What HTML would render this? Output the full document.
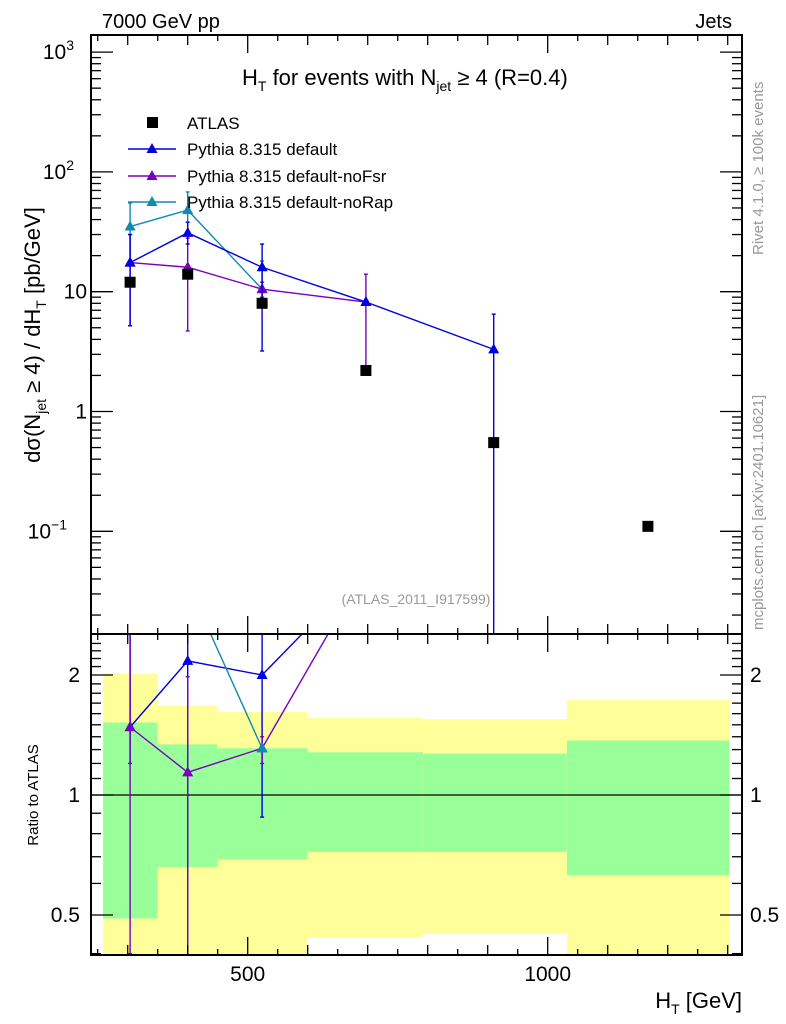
<!DOCTYPE html>
<html><head><meta charset="utf-8"><style>
body{margin:0;background:#fff;}
svg{display:block;font-family:"Liberation Sans",sans-serif;}
</style></head><body>
<svg id="chart" width="786" height="1024" viewBox="0 0 786 1024"></svg>
<script>
const binEdges=[259,350,450,600,792,1032,1303];
const xCenters=[304,400,524,697,910,1167];
const atlasVals=[12,14,8,2.2,0.55,0.11];
const defVals=[17.5,31,16,8.2,3.3];
const defUp=[30,38,25,8.4,6.5];
const defDn=[5.2,25,3.2,8.0,0.001];
const fsrVals=[17.5,16,10.5,8.2];
const fsrUp=[30,28,12,14];
const fsrDn=[5.2,4.7,9,2.3];
const rapVals=[35,48,10.5];
const rapUp=[55,68,18];
const rapDn=[18,30,9];
const defRatio=[1.48,2.17,2.0,3.7];
const defRatioUp=[3,3,3];
const defRatioDn=[1.2,0.3,0.88];
const fsrRatio=[1.48,1.14,1.31,3.7];
const fsrRatioUp=[3,1.98,1.4];
const fsrRatioDn=[0.4,0.3,1.2];
const rapRatio=[2.9,3.4,1.31];
const yelUp=[2.02,1.68,1.615,1.56,1.55,1.73];
const yelDn=[0.3,0.3,0.3,0.44,0.45,0.3];
const grnUp=[1.52,1.34,1.31,1.28,1.27,1.37];
const grnDn=[0.49,0.66,0.69,0.72,0.72,0.63];

const L=91,R=742,T=35,MB=634,RB=955;
const X=v=>247.7+(v-500)*0.6;
const Y=v=>411.5-119.8*Math.log10(v);
const YR=r=>795-398.6*Math.log10(r);
const svg=document.getElementById('chart');
const NS='http://www.w3.org/2000/svg';
function mk(tag,attrs,parent){const e=document.createElementNS(NS,tag);for(const k in attrs)e.setAttribute(k,attrs[k]);(parent||svg).appendChild(e);return e;}
function txt(s,attrs,parent){const e=mk('text',attrs,parent);e.textContent=s;return e;}

const defs=mk('defs',{});
const c1=mk('clipPath',{id:'cm'},defs);mk('rect',{x:L,y:T,width:R-L,height:MB-T},c1);
const c2=mk('clipPath',{id:'cr'},defs);mk('rect',{x:L,y:MB,width:R-L,height:RB-MB},c2);

const gR=mk('g',{'clip-path':'url(#cr)'});


for(let i=0;i<6;i++){
  const x0=X(binEdges[i]),x1=X(binEdges[i+1]);
  const y=mk('rect',{x:x0,y:YR(yelUp[i]),width:x1-x0,height:YR(yelDn[i])-YR(yelUp[i]),fill:'#ffff99'},gR);
  
  
  const g=mk('rect',{x:x0,y:YR(grnUp[i]),width:x1-x0,height:YR(grnDn[i])-YR(grnUp[i]),fill:'#99ff99'},gR);
  
  
}
mk('line',{x1:L,x2:R,y1:YR(1),y2:YR(1),stroke:'#000','stroke-width':1.2},gR);

function tri(g,x,y,c){mk('path',{d:`M${x} ${y-6}L${x+5.5} ${y+4}L${x-5.5} ${y+4}Z`,fill:c},g);}
function series(g,Yf,vals,up,dn,col,name){
  const s=mk('g',{},g);
  
  
  mk('polyline',{points:vals.map((v,i)=>X(xCenters[i])+','+Yf(v)).join(' '),fill:'none',stroke:col,'stroke-width':1.4},s);
  vals.forEach((v,i)=>{
    const x=X(xCenters[i]);
    if(up&&up[i]!==undefined){
      mk('line',{x1:x,x2:x,y1:Yf(up[i]),y2:Yf(dn[i]),stroke:col,'stroke-width':1.4},s);
      mk('line',{x1:x-2,x2:x+2,y1:Yf(up[i]),y2:Yf(up[i]),stroke:col,'stroke-width':1.4},s);
      mk('line',{x1:x-2,x2:x+2,y1:Yf(dn[i]),y2:Yf(dn[i]),stroke:col,'stroke-width':1.4},s);
    }
    tri(s,x,Yf(v),col);
  });
}
series(gR,YR,defRatio,defRatioUp,defRatioDn,'#0000e0','ratio-default');
series(gR,YR,fsrRatio,fsrRatioUp,fsrRatioDn,'#7a00c0','ratio-nofsr');
series(gR,YR,rapRatio,null,null,'#0f8bb3','ratio-norap');

const gM=mk('g',{'clip-path':'url(#cm)'});


series(gM,Y,rapVals,rapUp,rapDn,'#0f8bb3','series-norap');
series(gM,Y,fsrVals,fsrUp,fsrDn,'#7a00c0','series-nofsr');
series(gM,Y,defVals,defUp,defDn,'#0000e0','series-default');
atlasVals.forEach((v,i)=>{
  const r=mk('rect',{x:X(xCenters[i])-5.5,y:Y(v)-5.5,width:11,height:11,fill:'#000'},gM);
  
  
});

mk('rect',{x:L,y:T,width:R-L,height:MB-T,fill:'none',stroke:'#000','stroke-width':2});
mk('rect',{x:L,y:MB,width:R-L,height:RB-MB,fill:'none',stroke:'#000','stroke-width':2});

for(let v=250;v<=1300;v+=50){
  const x=X(v);const big=v%500===0;const len=big?18:(v%100===0?10:6);
  [[T,1],[MB,-1],[MB,1],[RB,-1]].forEach(([y,d])=>mk('line',{x1:x,x2:x,y1:y,y2:y+d*len,stroke:'#000','stroke-width':1.3}));
}
[500,1000].forEach(v=>txt(String(v),{x:X(v),y:981,'font-size':21,'text-anchor':'middle'}));
for(let e=-2;e<=3;e++){for(let m=1;m<10;m++){
  const v=m*Math.pow(10,e);const y=Y(v);if(y<T||y>MB)continue;const len=m===1?22:10;
  mk('line',{x1:L,x2:L+len,y1:y,y2:y,stroke:'#000','stroke-width':1.3});
  mk('line',{x1:R,x2:R-len,y1:y,y2:y,stroke:'#000','stroke-width':1.3});
}}
const mainTicks=[[1000,'10','3'],[100,'10','2'],[10,'10',''],[1,'1',''],[0.1,'10','−1']];
mainTicks.forEach(([v,b,s])=>{
  const t=txt('',{x:87,y:Y(v)+7,'font-size':21,'text-anchor':'end'});
  if(s){t.textContent=b;const ts=mk('tspan',{dy:-9,'font-size':14},t);ts.textContent=s;t.setAttribute('x',s.length>1?67:74);}
  else t.textContent=b;
  
  
});
for(let r=0.4;r<=2.5;r+=0.1){
  const rr=Math.round(r*10)/10;const y=YR(rr);if(y<MB||y>RB)continue;
  const len=(rr===0.5||rr===1||rr===2)?22:10;
  mk('line',{x1:L,x2:L+len,y1:y,y2:y,stroke:'#000','stroke-width':1.3});
  mk('line',{x1:R,x2:R-len,y1:y,y2:y,stroke:'#000','stroke-width':1.3});
}
[[2,'2'],[1,'1'],[0.5,'0.5']].forEach(([r,s])=>{
  txt(s,{x:80,y:YR(r)+7,'font-size':21,'text-anchor':'end'});
  txt(s,{x:750,y:YR(r)+7,'font-size':21});
});
</script>
<svg width="786" height="1024" style="position:absolute;left:0;top:0">
<g font-family="Liberation Sans, sans-serif">
<text x="102" y="28" font-size="20">7000 GeV pp</text>
<text x="732" y="28" font-size="20" text-anchor="end">Jets</text>
<text x="242" y="85" font-size="22">H<tspan font-size="14" dy="6">T</tspan><tspan dy="-6"> for events with N</tspan><tspan font-size="14" dy="6">jet</tspan><tspan dy="-6"> ≥ 4 (R=0.4)</tspan></text>
<g font-size="17">
<rect x="147" y="117" width="11" height="11" fill="#000"/>
<text x="187" y="129">ATLAS</text>
<line x1="128" x2="176" y1="149" y2="149" stroke="#0000e0" stroke-width="1.4"/><path d="M152 143L157.5 153L146.5 153Z" fill="#0000e0"/>
<text x="187" y="155">Pythia 8.315 default</text>
<line x1="128" x2="176" y1="176" y2="176" stroke="#7a00c0" stroke-width="1.4"/><path d="M152 170L157.5 180L146.5 180Z" fill="#7a00c0"/>
<text x="187" y="182">Pythia 8.315 default-noFsr</text>
<line x1="128" x2="176" y1="202" y2="202" stroke="#0f8bb3" stroke-width="1.4"/><path d="M152 196L157.5 206L146.5 206Z" fill="#0f8bb3"/>
<text x="187" y="208">Pythia 8.315 default-noRap</text>
</g>
<text x="416" y="604" font-size="14" fill="#999" text-anchor="middle">(ATLAS_2011_I917599)</text>
<text transform="translate(40,335) rotate(-90)" font-size="22" text-anchor="middle">dσ(N<tspan font-size="14" dy="6">jet</tspan><tspan dy="-6"> ≥ 4) / dH</tspan><tspan font-size="14" dy="6">T</tspan><tspan dy="-6"> [pb/GeV]</tspan></text>
<text transform="translate(38,795) rotate(-90)" font-size="15" text-anchor="middle">Ratio to ATLAS</text>
<text x="742" y="1008" font-size="22" text-anchor="end">H<tspan font-size="14" dy="6">T</tspan><tspan dy="-6"> [GeV]</tspan></text>
<text transform="translate(763,255) rotate(-90)" font-size="15" fill="#999">Rivet 4.1.0, ≥ 100k events</text>
<text transform="translate(763,630) rotate(-90)" font-size="15" fill="#999">mcplots.cern.ch [arXiv:2401.10621]</text>
</g></svg>
</body></html>
